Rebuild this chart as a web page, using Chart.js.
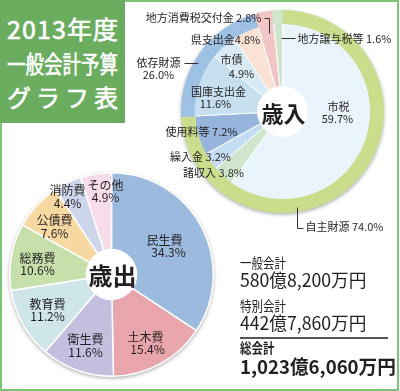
<!DOCTYPE html>
<html><head><meta charset="utf-8">
<script src="https://cdn.jsdelivr.net/npm/chart.js@4/dist/chart.umd.min.js"></script>
<style>
body{margin:0;background:#fff;}
#wrap{position:relative;width:400px;height:391px;overflow:hidden;font-family:"Noto Sans CJK JP","Noto Sans",sans-serif;color:#231f20;}
#frame{position:absolute;left:0;top:0;width:395px;height:387px;border:2px solid #7cc476;}
#title{position:absolute;left:0;top:0;width:125px;height:123px;background:#6aad5f;color:#fff;}
.tl{position:absolute;left:7px;width:111px;white-space:nowrap;font-size:24px;line-height:24px;height:24px;font-weight:400;-webkit-text-stroke:0.6px #fff;}
.sp{display:flex;justify-content:space-between;}
canvas{position:absolute;left:0;top:0;}
.s{position:absolute;left:240px;white-space:nowrap;transform-origin:0 50%;}
#rule{position:absolute;left:240px;top:337px;width:148px;height:2px;background:#555;}
</style></head>
<body>
<div id="wrap">
  <canvas id="exp" width="400" height="391"></canvas>
  <canvas id="rev" width="400" height="391"></canvas>
  <div id="frame"></div>
  <div id="title">
    <div class="tl sp" style="top:16px;font-size:25px;"><span>2</span><span>0</span><span>1</span><span>3</span><span>年</span><span>度</span></div>
    <div class="tl" style="top:51px;transform:scaleX(0.77);transform-origin:0 50%;">一般会計予算</div>
    <div class="tl sp" style="top:85px;"><span>グ</span><span>ラ</span><span>フ</span><span>表</span></div>
  </div>
  <div id="sum"></div>
  <div id="rule"></div>
</div>
<script>
// ---- data ----
const revenueCategories = ['市税','諸収入','繰入金','使用料等','国庫支出金','市債','県支出金','地方消費税交付金','地方譲与税等'];
const revenueShares = [59.7, 3.8, 3.2, 7.2, 11.6, 4.9, 4.8, 2.8, 1.6];
const revenueGroups = ['自主財源','依存財源'];
const revenueGroupShares = [74.0, 26.0];
const revenueGroupOf = [0,0,0,0,1,1,1,1,1];
const expenditureCategories = ['民生費','土木費','衛生費','教育費','総務費','公債費','消防費','その他'];
const expenditureShares = [34.3, 15.4, 11.6, 11.2, 10.6, 7.6, 4.4, 4.9];
const budgetLabels = ['一般会計','特別会計','総会計'];
const budgetAmounts = ['580億8,200万円','442億7,860万円','1,023億6,060万円'];
const centerLabels = ['歳入','歳出'];

// ---- styles ----
const revColors = ['#eaf4fc','#cfe6cc','#c4ddf2','#96b4dc','#c6e0ef','#d7eaf5','#f9e2d4','#f1c5c6','#cfe6cc'];
const groupColors = ['#c9dd8c','#9ec0e3'];
const ringColors = revenueShares.map((v,i)=> i>=7 ? revColors[i] : groupColors[revenueGroupOf[i]]);
const expColors = ['#9cb9de','#e9a5ac','#c4bedf','#cee6ea','#c7dfab','#f6d8a0','#cdd5ea','#f7dce9'];
const pct = v => v.toFixed(1) + '%';

// summary box (real DOM text)
const sum = document.getElementById('sum');
const sumLayout = [
  {t: budgetLabels[0], y: 263, fs: 14, w: 400, sx: 0.82},
  {t: budgetAmounts[0], y: 280, fs: 18, w: 400, sx: 0.98},
  {t: budgetLabels[1], y: 306, fs: 14, w: 400, sx: 0.82},
  {t: budgetAmounts[1], y: 323, fs: 18, w: 400, sx: 0.98},
  {t: budgetLabels[2], y: 348, fs: 14, w: 700, sx: 0.82},
  {t: budgetAmounts[2], y: 366, fs: 19, w: 700, sx: 0.98}
];
sumLayout.forEach(o => {
  const d = document.createElement('div');
  d.className = 's';
  d.textContent = o.t;
  d.style.top = (o.y - o.fs/2 - 1) + 'px';
  d.style.fontSize = o.fs + 'px';
  d.style.lineHeight = o.fs + 'px';
  d.style.fontWeight = o.w;
  d.style.transform = 'scaleX(' + o.sx + ')';
  sum.appendChild(d);
});

// plugin: shadow under pie, labels, leader lines
const piePlugin = {
  id: 'pieDeco',
  beforeDatasetsDraw(chart) {
    const a = chart.getDatasetMeta(0).data[0];
    const ctx = chart.ctx;
    ctx.save();
    ctx.shadowColor = 'rgba(0,0,0,0.4)';
    ctx.shadowBlur = 4;
    ctx.shadowOffsetY = 1.5;
    ctx.beginPath();
    ctx.arc(a.x, a.y, a.outerRadius, 0, Math.PI*2);
    ctx.fillStyle = '#fff';
    ctx.fill();
    ctx.restore();
  },
  afterDatasetsDraw(chart, args, opts) {
    const a = chart.getDatasetMeta(0).data[0];
    const cx = a.x, cy = a.y;
    const ctx = chart.ctx;
    ctx.save();
    ctx.fillStyle = '#231f20';
    ctx.textBaseline = 'middle';
    (opts.items || []).forEach(it => {
      ctx.font = it.font || opts.font;
      ctx.textAlign = it.align || 'center';
      it.lines.forEach((t, k) => ctx.fillText(t, cx + it.pos[k][0], cy + it.pos[k][1]));
    });
    ctx.strokeStyle = '#333';
    ctx.lineWidth = 1;
    (opts.leaders || []).forEach(pts => {
      ctx.beginPath();
      pts.forEach((p, i) => {
        const x = Math.round(cx + p[0]) + 0.5, y = Math.round(cy + p[1]) + 0.5;
        i ? ctx.lineTo(x, y) : ctx.moveTo(x, y);
      });
      ctx.stroke();
    });
    ctx.restore();
  }
};

const F11 = '11px "Noto Sans CJK JP", sans-serif';
const F12 = '12px "Noto Sans CJK JP", sans-serif';

// revenue labels (offsets from pie centre)
const rc = revenueCategories, rs = revenueShares;
const revItems = [
  {lines: [rc[0], pct(rs[0])], pos: [[56,-5],[55,7]]},
  {lines: [rc[1] + ' ' + pct(rs[1])], pos: [[-69,61]]},
  {lines: [rc[2] + ' ' + pct(rs[2])], pos: [[-82,45]]},
  {lines: [rc[3] + ' ' + pct(rs[3])], pos: [[-81,20]]},
  {lines: [rc[4], pct(rs[4])], pos: [[-64,-20],[-67,-8]]},
  {lines: [rc[5], pct(rs[5])], pos: [[-51,-52],[-41,-38]]},
  {lines: [rc[6] + pct(rs[6])], pos: [[-57,-72]]},
  {lines: [rc[7] + ' ' + pct(rs[7])], pos: [[-21,-94]], align: 'right'},
  {lines: [rc[8] + ' ' + pct(rs[8])], pos: [[15,-73]], align: 'left'},
  {lines: [revenueGroups[1], pct(revenueGroupShares[1])], pos: [[-124,-49],[-124,-37]]},
  {lines: [revenueGroups[0] + ' ' + pct(revenueGroupShares[0])], pos: [[23,115]], align: 'left'},
  {lines: [centerLabels[0]], pos: [[1,2]], font: 'bold 22px "Noto Sans CJK JP", sans-serif'}
];
const revLeaders = [
  [[-19,-94],[-14,-94],[-14,-79]],
  [[-2,-74],[12,-74]],
  [[-99,-49],[-85,-49]],
  [[14,95],[14,116],[20,116]]
];

const ec = expenditureCategories, es = expenditureShares;
const expPos = [
  [[53,-34],[57,-22]],
  [[34,63],[36,75]],
  [[-26,65],[-26,78]],
  [[-64,30],[-64,42]],
  [[-74,-16],[-74,-4]],
  [[-57,-54],[-57,-41]],
  [[-44,-84],[-44,-71]],
  [[-6,-89],[-6,-77]]
];
const expItems = ec.map((c,i) => ({lines: [c, pct(es[i])], pos: expPos[i]}));
expItems.push({lines: [centerLabels[1]], pos: [[1,1]], font: 'bold 24px "Noto Sans CJK JP", sans-serif'});

Chart.defaults.font.family = '"Noto Sans CJK JP", sans-serif';

new Chart(document.getElementById('rev'), {
  type: 'doughnut',
  data: {
    labels: revenueCategories,
    datasets: [
      {data: revenueShares, backgroundColor: ringColors, borderColor: ringColors, borderWidth: 1, hoverBorderWidth: 0, weight: 13},
      {data: revenueShares, backgroundColor: revColors, borderColor: '#ffffff', borderWidth: 1, hoverBorderWidth: 0, weight: 63}
    ]
  },
  options: {
    responsive: false, animation: false, events: [], devicePixelRatio: 1,
    cutout: 25,
    layout: {padding: {left: 181, right: 16, top: 10, bottom: 178}},
    plugins: {legend: {display: false}, tooltip: {enabled: false},
      pieDeco: {font: F11, items: revItems, leaders: revLeaders}}
  },
  plugins: [piePlugin]
});

new Chart(document.getElementById('exp'), {
  type: 'doughnut',
  data: {
    labels: expenditureCategories,
    datasets: [{data: expenditureShares, backgroundColor: expColors, borderColor: '#ffffff', borderWidth: 1.5, hoverBorderWidth: 0}]
  },
  options: {
    responsive: false, animation: false, events: [], devicePixelRatio: 1,
    cutout: 25,
    layout: {padding: {left: 9, right: 186, top: 172, bottom: 14}},
    plugins: {legend: {display: false}, tooltip: {enabled: false},
      pieDeco: {font: F12, items: expItems, leaders: []}}
  },
  plugins: [piePlugin]
});
</script>
</body></html>
